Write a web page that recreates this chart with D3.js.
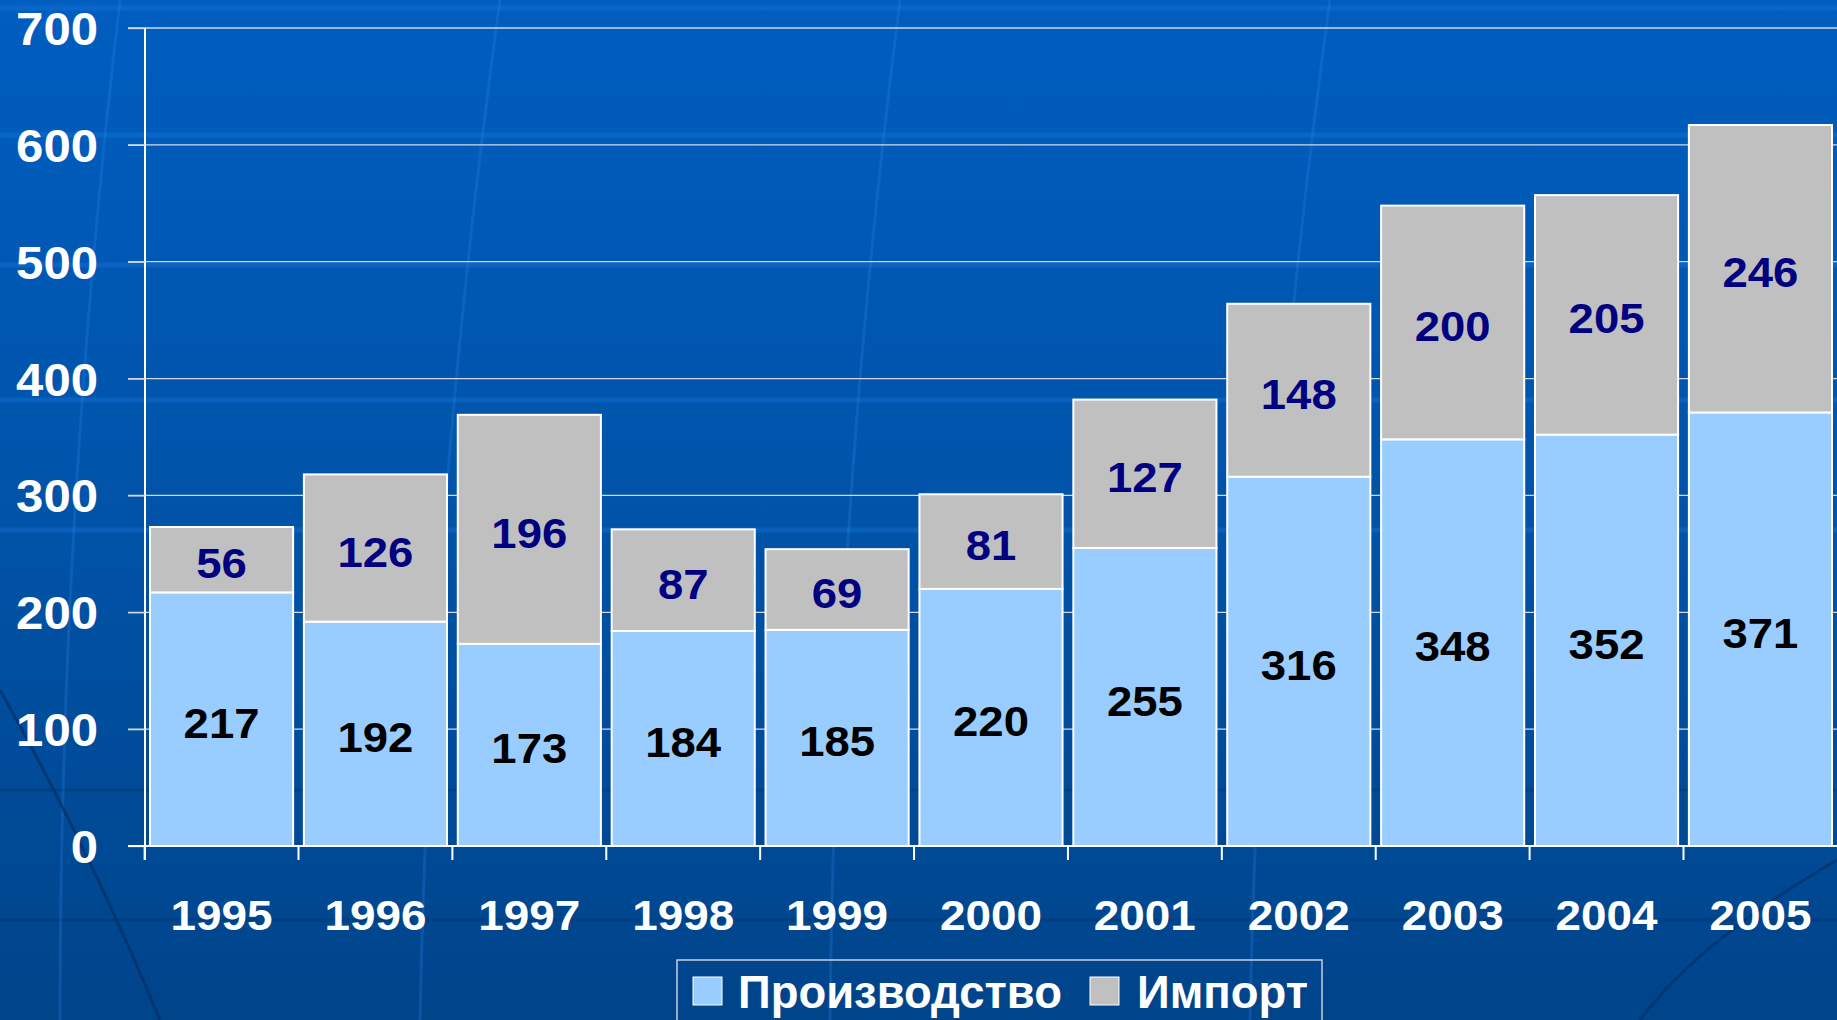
<!DOCTYPE html>
<html><head><meta charset="utf-8">
<script src="https://cdn.jsdelivr.net/npm/d3@7"></script>
<style>html,body{margin:0;padding:0;overflow:hidden;background:#0050a0}</style>
</head><body>
<svg id="c" width="1837" height="1020"></svg>
<script>
const years = ["1995","1996","1997","1998","1999","2000","2001","2002","2003","2004","2005"];
const production = [217,192,173,184,185,220,255,316,348,352,371];
const imports = [56,126,196,87,69,81,127,148,200,205,246];
const yTicks = [0,100,200,300,400,500,600,700];
const seriesNames = ["Производство","Импорт"];

const W = 1837, H = 1020;
const FONT = "Liberation Sans, Arial, sans-serif";
const svg = d3.select("#c");
const defs = svg.append("defs");
const grad = defs.append("linearGradient").attr("id","bg").attr("x1",0).attr("y1",0).attr("x2",0).attr("y2",1);
grad.append("stop").attr("offset","0%").attr("stop-color","#005ec0");
grad.append("stop").attr("offset","55%").attr("stop-color","#0052a6");
grad.append("stop").attr("offset","100%").attr("stop-color","#00448a");
svg.append("rect").attr("width",W).attr("height",H).attr("fill","url(#bg)");

// decorative globe lines (template background)
const deco = svg.append("g").attr("fill","none");
[8,135,265,400,530].forEach(y=>deco.append("line").attr("x1",0).attr("x2",W).attr("y1",y).attr("y2",y).attr("stroke","#1a78e0").attr("stroke-opacity",0.35).attr("stroke-width",5));
[790,920].forEach(y=>deco.append("line").attr("x1",0).attr("x2",W).attr("y1",y).attr("y2",y).attr("stroke","#003a78").attr("stroke-opacity",0.6).attr("stroke-width",3));
[[120,0,60,1020],[500,0,420,1020],[900,0,830,1020],[1330,0,1250,1020]].forEach(p=>deco.append("path").attr("d",`M${p[0]},${p[1]} Q${(p[0]+p[2])/2-30},${H/2} ${p[2]},${p[3]}`).attr("stroke","#2a86ee").attr("stroke-opacity",0.25).attr("stroke-width",3));
deco.append("path").attr("d","M0,690 Q90,850 160,1020").attr("stroke","#002f66").attr("stroke-opacity",0.7).attr("stroke-width",3);
deco.append("path").attr("d","M1837,860 Q1700,940 1640,1020").attr("stroke","#002f66").attr("stroke-opacity",0.6).attr("stroke-width",3);

const x0 = 145, xr = 1837, yTop = 28, yBase = 846;
const x = d3.scaleBand().domain(years).range([x0, xr]).paddingInner(0.07).paddingOuter(0.0325);
const y = d3.scaleLinear().domain([0,700]).range([yBase, yTop]);

// gridlines
svg.append("g").selectAll("line").data(yTicks.filter(t=>t>0)).join("line")
  .attr("x1",128).attr("x2",xr).attr("y1",d=>y(d)).attr("y2",d=>y(d))
  .attr("stroke","#d4d8e0").attr("stroke-width",1.3);

const color = ["#99ccff","#c0c0c0"];
const data = years.map((yr,i)=>({year:yr, prod:production[i], imp:imports[i]}));
const stack = d3.stack().keys(["prod","imp"])(data);

const gBars = svg.append("g");
stack.forEach((s,si)=>{
  gBars.append("g").selectAll("rect").data(s).join("rect")
    .attr("x",d=>x(d.data.year)).attr("width",x.bandwidth())
    .attr("y",d=>y(d[1])).attr("height",d=>y(d[0])-y(d[1]))
    .attr("fill",color[si]).attr("stroke","#ffffff").attr("stroke-width",2);
});

// value labels
stack.forEach((s,si)=>{
  svg.append("g").selectAll("text").data(s).join("text")
    .attr("x",d=>x(d.data.year)+x.bandwidth()/2)
    .attr("y",d=>y((d[0]+d[1])/2)+4)
    .attr("text-anchor","middle").attr("dominant-baseline","central")
    .attr("font-family",FONT).attr("font-weight","bold")
    .attr("font-size",42).attr("fill",si===0?"#000000":"#000080")
    .text(d=>String(d[1]-d[0]))
    .attr("textLength",d=>String(d[1]-d[0]).length*25.3).attr("lengthAdjust","spacingAndGlyphs");
});

// y axis
const yAxis = d3.axisLeft(y).tickValues(yTicks).tickSize(17).tickPadding(47).tickFormat(d3.format("d"));
const gy = svg.append("g").attr("transform",`translate(${x0},0)`).call(yAxis);
gy.select(".domain").attr("stroke","#ffffff").attr("stroke-width",2).attr("d",`M0,${yTop}V${yBase+14}`);
gy.selectAll(".tick line").attr("stroke","#d4d8e0").attr("stroke-width",1.3);
gy.selectAll(".tick text").attr("fill","#ffffff").attr("font-family",FONT)
  .attr("font-weight","bold").attr("font-size",46).attr("dy","0.36em")
  .attr("text-anchor","start")
  .attr("x",d=>-47-String(d).length*27.3)
  .attr("textLength",d=>String(d).length*27.3).attr("lengthAdjust","spacingAndGlyphs");

// x axis
const gx = svg.append("g").attr("transform",`translate(0,${yBase})`);
gx.append("line").attr("x1",128).attr("x2",xr).attr("y1",0).attr("y2",0).attr("stroke","#ffffff").attr("stroke-width",2);
gx.selectAll("line.tk").data(years).join("line").attr("class","tk")
  .attr("x1",d=>x(d)-x.step()*x.paddingInner()/2).attr("x2",d=>x(d)-x.step()*x.paddingInner()/2)
  .attr("y1",0).attr("y2",14).attr("stroke","#ffffff").attr("stroke-width",2);
gx.selectAll("text").data(years).join("text")
  .attr("x",d=>x(d)+x.bandwidth()/2).attr("y",84)
  .attr("text-anchor","middle").attr("fill","#ffffff")
  .attr("font-family",FONT).attr("font-weight","bold").attr("font-size",42)
  .text(d=>d)
  .attr("textLength",d=>d.length*25.5).attr("lengthAdjust","spacingAndGlyphs");

// legend
const lg = svg.append("g");
lg.append("rect").attr("x",677).attr("y",960).attr("width",645).attr("height",80)
  .attr("fill","none").attr("stroke","#c8d0dc").attr("stroke-width",1.5);
const legItems = [{name:seriesNames[0], c:color[0], sx:693, tx:738, w:324},{name:seriesNames[1], c:color[1], sx:1090, tx:1137, w:171}];
legItems.forEach(it=>{
  lg.append("rect").attr("x",it.sx).attr("y",977).attr("width",29).attr("height",28).attr("fill",it.c).attr("stroke","#ffffff").attr("stroke-width",1);
  const t = lg.append("text").attr("x",0).attr("y",0).attr("fill","#ffffff")
    .attr("font-family",FONT).attr("font-weight","bold").attr("font-size",46)
    .text(it.name);
  const natural = t.node().getComputedTextLength();
  t.attr("transform",`translate(${it.tx},1008) scale(${it.w/natural},1)`);
});
</script>
</body></html>
